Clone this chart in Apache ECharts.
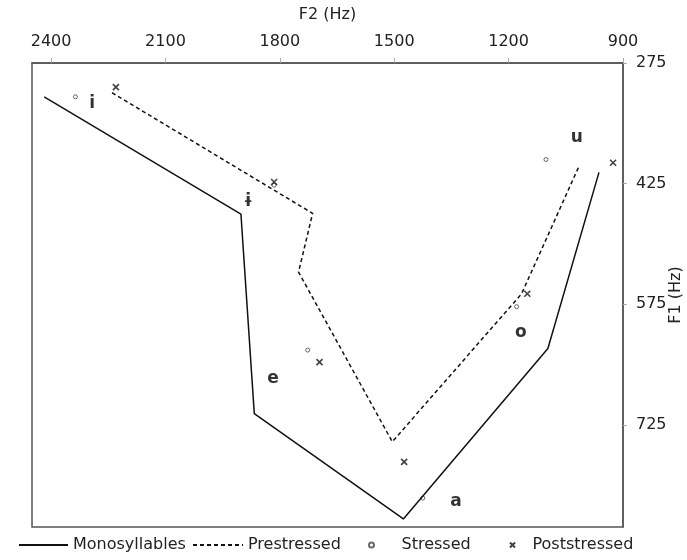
<!DOCTYPE html>
<html>
<head>
<meta charset="utf-8">
<script src="https://cdn.jsdelivr.net/npm/echarts@6/dist/echarts.min.js"></script>
<style>html,body{margin:0;padding:0;background:#fff}#c{width:687px;height:560px}</style>
</head>
<body>
<div id="c"></div>
<script>
// ---- data ----
const xTicks = [900, 1200, 1500, 1800, 2100, 2400];
const yTicks = [275, 425, 575, 725];

const monoF2 = [2418, 1902, 1867, 1476, 1097, 963];
const monoF1 = [317, 463, 711, 842, 630, 411];

const preF2 = [2240, 1714, 1751, 1505, 1166, 1015];
const preF1 = [312, 462, 535, 746, 562, 403];

const stressedF2 = [2336, 1815, 1727, 1425, 1179, 1102];
const stressedF1 = [317, 427, 632, 816, 578, 395];

const postF2 = [2230, 1815, 1696, 1474, 1151, 926];
const postF1 = [305, 423, 647, 771, 562, 399];

const vowels = ['i', 'ɨ', 'e', 'a', 'o', 'u'];
const vowelF2 = [2292, 1883, 1818, 1338, 1168, 1021];
const vowelF1 = [326, 447, 667, 820, 610, 368];

const legendNames = ['Monosyllables', 'Prestressed', 'Stressed', 'Poststressed'];

// ---- chart ----
const pairs = (a, b) => a.map((v, i) => [v, b[i]]);
const FONT = 'DejaVu Sans';
const crossPath = 'path://M0,0L10,10M10,0L0,10';
const legendText = {fontFamily: FONT, fontSize: 16, color: '#222'};
const legendLefts = [13, 187, 363, 504];
const legendWidths = [49, 50, 50, 30];

const chart = echarts.init(document.getElementById('c'), null, {renderer: 'canvas'});
chart.setOption({
  animation: false,
  backgroundColor: '#fff',
  textStyle: {fontFamily: FONT},
  grid: {left: 32, right: 64, top: 63, bottom: 33, containLabel: false, outerBoundsMode: 'none',
         show: true, borderColor: '#555', borderWidth: 1.5, backgroundColor: 'transparent'},
  legend: legendNames.map((n, i) => ({
    data: [i < 2 ? {name: n, itemStyle: {opacity: 0}} : n],
    bottom: 2, left: legendLefts[i],
    itemWidth: legendWidths[i], itemHeight: 5,
    textStyle: legendText
  })),
  xAxis: {
    type: 'value', position: 'top', inverse: true,
    min: 900, max: 2450,
    name: 'F2 (Hz)', nameLocation: 'middle', nameGap: 40, nameMoveOverlap: false,
    nameTextStyle: {fontFamily: FONT, fontSize: 16, color: '#222'},
    axisLine: {show: true, lineStyle: {color: '#555', width: 1.5}},
    axisTick: {show: true, length: 5, customValues: xTicks, lineStyle: {color: '#aaa'}},
    axisLabel: {customValues: xTicks, margin: 13, fontFamily: FONT, fontSize: 16, color: '#222',
                formatter: v => String(v)},
    splitLine: {show: false}
  },
  yAxis: {
    type: 'value', position: 'right', inverse: true,
    min: 275, max: 852,
    name: 'F1 (Hz)', nameLocation: 'middle', nameGap: 45, nameMoveOverlap: false,
    nameTextStyle: {fontFamily: FONT, fontSize: 16, color: '#222'},
    axisLine: {show: true, lineStyle: {color: '#555', width: 1.5}},
    axisTick: {show: true, length: 4, customValues: yTicks, lineStyle: {color: '#aaa'}},
    axisLabel: {customValues: yTicks, margin: 13, fontFamily: FONT, fontSize: 16, color: '#222',
                formatter: v => String(v)},
    splitLine: {show: false}
  },
  series: [
    {
      name: 'Monosyllables', type: 'line', data: pairs(monoF2, monoF1),
      symbol: 'none', lineStyle: {color: '#111', width: 1.5}, itemStyle: {color: '#111'}
    },
    {
      name: 'Prestressed', type: 'line', data: pairs(preF2, preF1),
      symbol: 'none', lineStyle: {color: '#111', width: 1.5, type: [4, 3]}, itemStyle: {color: '#111'}
    },
    {
      name: 'Stressed', type: 'scatter', data: pairs(stressedF2, stressedF1),
      symbol: 'circle', symbolSize: 4,
      itemStyle: {color: '#fff', borderColor: '#444', borderWidth: 1}
    },
    {
      name: 'Poststressed', type: 'scatter', data: pairs(postF2, postF1),
      symbol: crossPath, symbolSize: 6,
      itemStyle: {color: 'transparent', borderColor: '#111', borderWidth: 1.6}
    },
    {
      name: 'vowels', type: 'scatter', data: pairs(vowelF2, vowelF1),
      symbolSize: 0, silent: true,
      label: {
        show: true, position: 'inside',
        formatter: p => vowels[p.dataIndex],
        fontFamily: FONT, fontSize: 17, fontWeight: 'bold', color: '#000'
      }
    }
  ]
});
</script>
</body>
</html>
